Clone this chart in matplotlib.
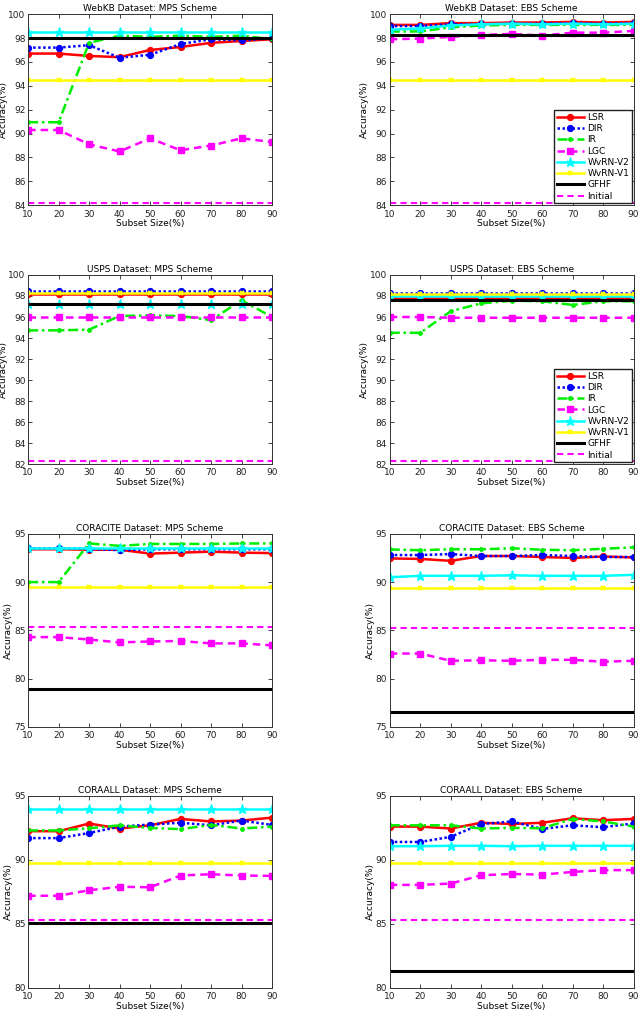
import matplotlib
matplotlib.use("Agg")
import matplotlib.pyplot as plt

subset = [10, 20, 30, 40, 50, 60, 70, 80, 90]
methods = ["LSR", "DIR", "IR", "LGC", "WvRN-V2", "WvRN-V1", "GFHF", "Initial"]

# ---- WebKB MPS ----
webkb_mps_lsr = [96.7, 96.7, 96.5, 96.4, 97.0, 97.25, 97.6, 97.75, 97.9]
webkb_mps_dir = [97.2, 97.2, 97.4, 96.35, 96.6, 97.5, 97.9, 97.8, 98.0]
webkb_mps_ir = [90.95, 90.95, 97.6, 98.2, 98.1, 98.2, 98.1, 98.2, 97.9]
webkb_mps_lgc = [90.3, 90.3, 89.1, 88.5, 89.6, 88.6, 89.0, 89.6, 89.3]
webkb_mps_v2 = [98.5, 98.5, 98.5, 98.5, 98.5, 98.5, 98.5, 98.5, 98.5]
webkb_mps_v1 = [94.5, 94.5, 94.5, 94.5, 94.5, 94.5, 94.5, 94.5, 94.5]
webkb_mps_gfhf = [98.0, 98.0, 98.0, 98.0, 98.0, 98.0, 98.0, 98.0, 98.0]
webkb_mps_init = [84.2, 84.2, 84.2, 84.2, 84.2, 84.2, 84.2, 84.2, 84.2]

# ---- WebKB EBS ----
webkb_ebs_lsr = [99.1, 99.1, 99.25, 99.25, 99.3, 99.3, 99.35, 99.3, 99.35]
webkb_ebs_dir = [99.0, 99.0, 99.15, 99.15, 99.2, 99.2, 99.25, 99.2, 99.25]
webkb_ebs_ir = [98.55, 98.55, 98.9, 99.05, 99.1, 99.1, 99.1, 99.1, 99.1]
webkb_ebs_lgc = [97.9, 97.95, 98.1, 98.25, 98.35, 98.2, 98.45, 98.45, 98.6]
webkb_ebs_v2 = [98.7, 98.8, 99.05, 99.15, 99.2, 99.15, 99.2, 99.15, 99.2]
webkb_ebs_v1 = [94.5, 94.5, 94.5, 94.5, 94.5, 94.5, 94.5, 94.5, 94.5]
webkb_ebs_gfhf = [98.25, 98.25, 98.25, 98.25, 98.25, 98.25, 98.25, 98.25, 98.25]
webkb_ebs_init = [84.2, 84.2, 84.2, 84.2, 84.2, 84.2, 84.2, 84.2, 84.2]

# ---- USPS MPS ----
usps_mps_lsr = [98.2, 98.2, 98.2, 98.2, 98.2, 98.2, 98.2, 98.2, 98.2]
usps_mps_dir = [98.5, 98.5, 98.5, 98.5, 98.5, 98.5, 98.5, 98.5, 98.5]
usps_mps_ir = [94.73, 94.73, 94.8, 96.1, 96.15, 96.1, 95.7, 97.6, 96.0]
usps_mps_lgc = [96.0, 96.0, 96.0, 96.0, 96.0, 96.0, 96.0, 96.0, 96.0]
usps_mps_v2 = [97.2, 97.2, 97.2, 97.2, 97.2, 97.2, 97.2, 97.2, 97.2]
usps_mps_v1 = [98.3, 98.3, 98.3, 98.3, 98.3, 98.3, 98.3, 98.3, 98.3]
usps_mps_gfhf = [97.27, 97.27, 97.27, 97.27, 97.27, 97.27, 97.27, 97.27, 97.27]
usps_mps_init = [82.25, 82.25, 82.25, 82.25, 82.25, 82.25, 82.25, 82.25, 82.25]

# ---- USPS EBS ----
usps_ebs_lsr = [97.85, 97.85, 97.85, 97.85, 97.85, 97.85, 97.85, 97.85, 97.85]
usps_ebs_dir = [98.3, 98.3, 98.3, 98.3, 98.3, 98.3, 98.3, 98.3, 98.3]
usps_ebs_ir = [94.5, 94.5, 96.55, 97.3, 97.55, 97.5, 97.15, 97.5, 97.5]
usps_ebs_lgc = [96.0, 96.0, 95.93, 95.93, 95.93, 95.93, 95.93, 95.93, 95.93]
usps_ebs_v2 = [98.0, 98.0, 98.0, 98.0, 98.0, 98.0, 98.0, 98.0, 98.0]
usps_ebs_v1 = [98.2, 98.2, 98.2, 98.2, 98.2, 98.2, 98.2, 98.2, 98.2]
usps_ebs_gfhf = [97.6, 97.6, 97.6, 97.6, 97.6, 97.6, 97.6, 97.6, 97.6]
usps_ebs_init = [82.25, 82.25, 82.25, 82.25, 82.25, 82.25, 82.25, 82.25, 82.25]

# ---- CORACITE MPS ----
coracite_mps_lsr = [93.4, 93.4, 93.35, 93.35, 92.95, 93.05, 93.15, 93.05, 93.0]
coracite_mps_dir = [93.5, 93.5, 93.45, 93.3, 93.4, 93.4, 93.4, 93.4, 93.4]
coracite_mps_ir = [90.0, 90.0, 94.0, 93.75, 93.95, 93.95, 93.95, 94.0, 94.0]
coracite_mps_lgc = [84.3, 84.3, 84.05, 83.75, 83.85, 83.9, 83.65, 83.65, 83.45]
coracite_mps_v2 = [93.5, 93.5, 93.5, 93.5, 93.5, 93.5, 93.5, 93.5, 93.5]
coracite_mps_v1 = [89.45, 89.45, 89.45, 89.45, 89.45, 89.45, 89.45, 89.45, 89.45]
coracite_mps_gfhf = [78.95, 78.95, 78.95, 78.95, 78.95, 78.95, 78.95, 78.95, 78.95]
coracite_mps_init = [85.3, 85.3, 85.3, 85.3, 85.3, 85.3, 85.3, 85.3, 85.3]

# ---- CORACITE EBS ----
coracite_ebs_lsr = [92.45, 92.4, 92.2, 92.7, 92.7, 92.6, 92.5, 92.65, 92.55]
coracite_ebs_dir = [92.8, 92.8, 92.9, 92.7, 92.7, 92.8, 92.7, 92.6, 92.6]
coracite_ebs_ir = [93.38, 93.3, 93.4, 93.4, 93.5, 93.35, 93.3, 93.45, 93.6]
coracite_ebs_lgc = [82.6, 82.6, 81.85, 81.9, 81.85, 81.95, 81.95, 81.75, 81.85]
coracite_ebs_v2 = [90.5, 90.65, 90.65, 90.65, 90.7, 90.65, 90.65, 90.65, 90.75]
coracite_ebs_v1 = [89.4, 89.4, 89.4, 89.4, 89.4, 89.4, 89.4, 89.4, 89.4]
coracite_ebs_gfhf = [76.5, 76.5, 76.5, 76.5, 76.5, 76.5, 76.5, 76.5, 76.5]
coracite_ebs_init = [85.25, 85.25, 85.25, 85.25, 85.25, 85.25, 85.25, 85.25, 85.25]

# ---- CORAALL MPS ----
coraall_mps_lsr = [92.24, 92.24, 92.84, 92.45, 92.7, 93.2, 93.0, 93.07, 93.3]
coraall_mps_dir = [91.7, 91.7, 92.1, 92.6, 92.76, 92.9, 92.7, 93.07, 92.73]
coraall_mps_ir = [92.3, 92.3, 92.47, 92.7, 92.5, 92.4, 92.73, 92.45, 92.6]
coraall_mps_lgc = [87.2, 87.2, 87.63, 87.9, 87.86, 88.78, 88.88, 88.78, 88.75]
coraall_mps_v2 = [94.0, 94.0, 94.0, 94.0, 94.0, 94.0, 94.0, 94.0, 94.0]
coraall_mps_v1 = [89.77, 89.77, 89.77, 89.77, 89.77, 89.77, 89.77, 89.77, 89.77]
coraall_mps_gfhf = [85.1, 85.1, 85.1, 85.1, 85.1, 85.1, 85.1, 85.1, 85.1]
coraall_mps_init = [85.3, 85.3, 85.3, 85.3, 85.3, 85.3, 85.3, 85.3, 85.3]

# ---- CORAALL EBS ----
coraall_ebs_lsr = [92.6, 92.6, 92.45, 92.9, 92.8, 92.9, 93.25, 93.1, 93.2]
coraall_ebs_dir = [91.4, 91.4, 91.8, 92.8, 93.0, 92.42, 92.7, 92.55, 92.85]
coraall_ebs_ir = [92.7, 92.7, 92.7, 92.45, 92.5, 92.47, 93.2, 93.0, 92.6]
coraall_ebs_lgc = [88.05, 88.05, 88.15, 88.8, 88.9, 88.85, 89.06, 89.2, 89.2]
coraall_ebs_v2 = [91.07, 91.07, 91.1, 91.1, 91.07, 91.1, 91.1, 91.1, 91.1]
coraall_ebs_v1 = [89.77, 89.77, 89.77, 89.77, 89.77, 89.77, 89.77, 89.77, 89.77]
coraall_ebs_gfhf = [81.33, 81.33, 81.33, 81.33, 81.33, 81.33, 81.33, 81.33, 81.33]
coraall_ebs_init = [85.3, 85.3, 85.3, 85.3, 85.3, 85.3, 85.3, 85.3, 85.3]

titles = ["WebKB Dataset: MPS Scheme", "WebKB Dataset: EBS Scheme",
          "USPS Dataset: MPS Scheme", "USPS Dataset: EBS Scheme",
          "CORACITE Dataset: MPS Scheme", "CORACITE Dataset: EBS Scheme",
          "CORAALL Dataset: MPS Scheme", "CORAALL Dataset: EBS Scheme"]

panels = [
    [webkb_mps_lsr, webkb_mps_dir, webkb_mps_ir, webkb_mps_lgc, webkb_mps_v2, webkb_mps_v1, webkb_mps_gfhf, webkb_mps_init],
    [webkb_ebs_lsr, webkb_ebs_dir, webkb_ebs_ir, webkb_ebs_lgc, webkb_ebs_v2, webkb_ebs_v1, webkb_ebs_gfhf, webkb_ebs_init],
    [usps_mps_lsr, usps_mps_dir, usps_mps_ir, usps_mps_lgc, usps_mps_v2, usps_mps_v1, usps_mps_gfhf, usps_mps_init],
    [usps_ebs_lsr, usps_ebs_dir, usps_ebs_ir, usps_ebs_lgc, usps_ebs_v2, usps_ebs_v1, usps_ebs_gfhf, usps_ebs_init],
    [coracite_mps_lsr, coracite_mps_dir, coracite_mps_ir, coracite_mps_lgc, coracite_mps_v2, coracite_mps_v1, coracite_mps_gfhf, coracite_mps_init],
    [coracite_ebs_lsr, coracite_ebs_dir, coracite_ebs_ir, coracite_ebs_lgc, coracite_ebs_v2, coracite_ebs_v1, coracite_ebs_gfhf, coracite_ebs_init],
    [coraall_mps_lsr, coraall_mps_dir, coraall_mps_ir, coraall_mps_lgc, coraall_mps_v2, coraall_mps_v1, coraall_mps_gfhf, coraall_mps_init],
    [coraall_ebs_lsr, coraall_ebs_dir, coraall_ebs_ir, coraall_ebs_lgc, coraall_ebs_v2, coraall_ebs_v1, coraall_ebs_gfhf, coraall_ebs_init],
]

ylims = [(84, 100), (84, 100), (82, 100), (82, 100), (75, 95), (75, 95), (80, 95), (80, 95)]
ysteps = [2, 2, 2, 2, 5, 5, 5, 5]

styles = [
    dict(color="#ff0000", ls="-", lw=1.8, marker="o", ms=4.2),
    dict(color="#0000ff", ls=(0, (1, 1)), lw=1.8, marker="o", ms=4.2),
    dict(color="#00ee00", ls=(0, (4, 1.5, 1, 1.5)), lw=1.8, marker=".", ms=5),
    dict(color="#ff00ff", ls=(0, (3, 2)), lw=1.8, marker="s", ms=4.2),
    dict(color="#00ffff", ls="-", lw=1.8, marker="*", ms=6.5),
    dict(color="#ffff00", ls="-", lw=1.8, marker="x", ms=3.5, mew=1.5),
    dict(color="#000000", ls="-", lw=2.2, marker=None),
    dict(color="#ff00ff", ls=(0, (3, 2)), lw=1.5, marker=None),
]

plt.rcParams['font.family'] = ['DejaVu Sans']
fs = 6.5

fig = plt.figure(figsize=(6.4, 10.11), dpi=100)
lefts = [0.044, 0.609]
bottoms = [0.797, 0.541, 0.281, 0.0228]
heights = [0.189, 0.187, 0.191, 0.190]
w = 0.381

for i, data in enumerate(panels):
    r, c = divmod(i, 2)
    ax = fig.add_axes([lefts[c], bottoms[r], w, heights[r]])
    for name, ys, st in zip(methods, data, styles):
        ax.plot(subset, ys, label=name, **st)
    lo, hi = ylims[i]
    ax.set_xlim(10, 90)
    ax.set_ylim(lo, hi)
    ax.set_xticks(subset)
    ax.set_yticks(list(range(lo, hi + 1, ysteps[i])))
    ax.tick_params(direction="in", top=True, right=True, labelsize=fs, length=3,
                   width=0.6, colors="#222222")
    ax.tick_params(axis="x", pad=3.2)
    ax.tick_params(axis="y", pad=2.0)
    for s in ax.spines.values():
        s.set_linewidth(0.7)
        s.set_color("#333333")
    ax.set_title(titles[i], fontsize=fs, pad=2)
    ax.set_xlabel("Subset Size(%)", fontsize=fs, labelpad=0.2)
    ax.set_ylabel("Accuracy(%)", fontsize=fs, labelpad=0.5)
    if i in (1, 3):
        ax.legend(loc="lower right", fontsize=fs, handlelength=3.0, borderpad=0.3,
                  labelspacing=0.25, handletextpad=0.4, fancybox=False,
                  edgecolor="#222222", framealpha=1, borderaxespad=0.2)

fig.savefig("out.png", dpi=100)
